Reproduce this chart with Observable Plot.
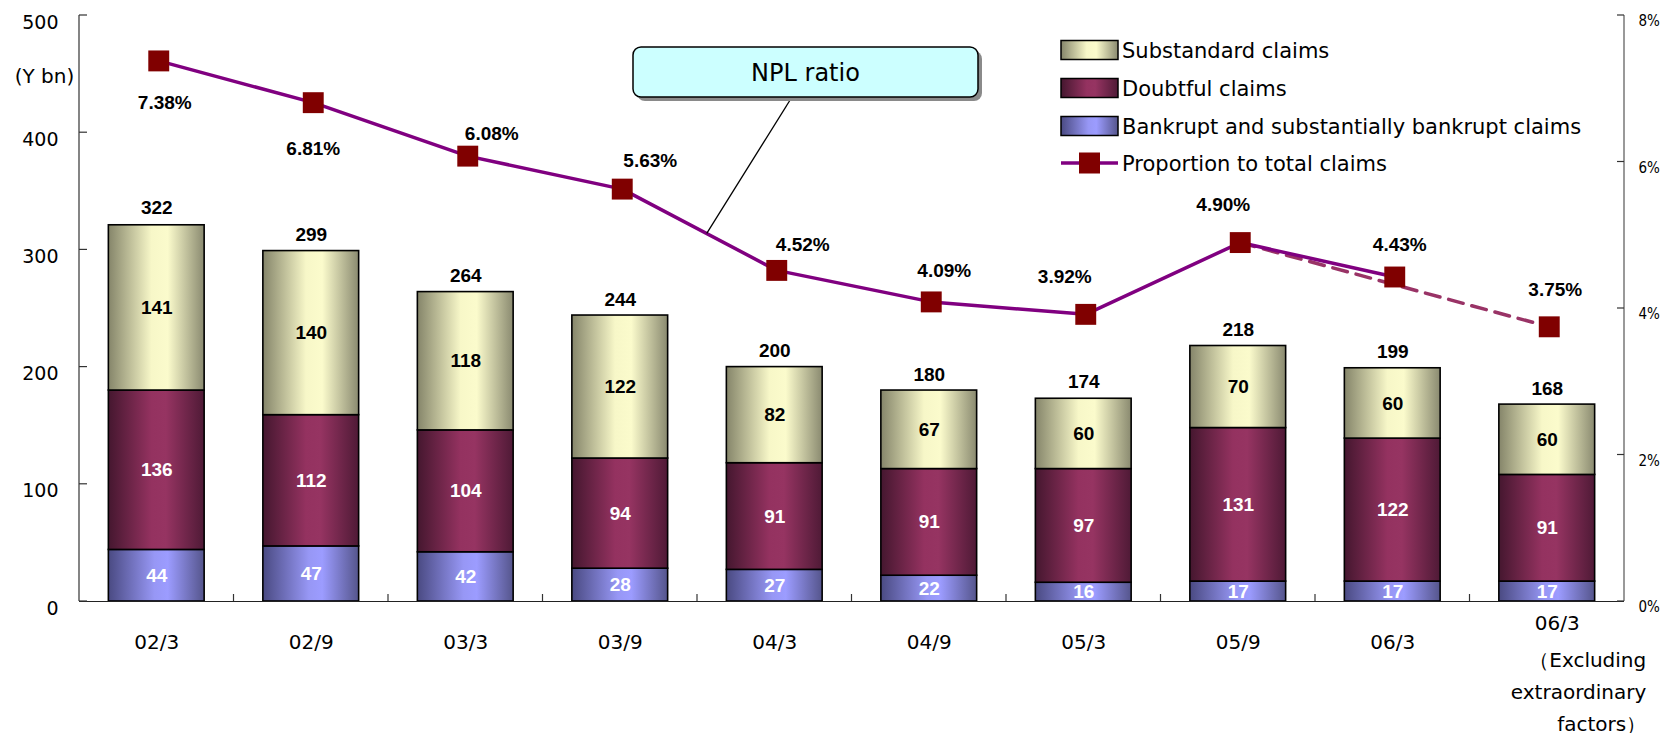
<!DOCTYPE html>
<html><head><meta charset="utf-8">
<script src="https://cdn.jsdelivr.net/npm/d3@7"></script>
<script src="https://cdn.jsdelivr.net/npm/@observablehq/plot@0.6"></script>
<style>
body{margin:0;background:#fff;}
#chart{position:relative;width:1680px;height:733px;}
</style></head><body><div id="chart"></div>
<script>
const periods = ["02/3","02/9","03/3","03/9","04/3","04/9","05/3","05/9","06/3","06/3x"];
const tickText = ["02/3","02/9","03/3","03/9","04/3","04/9","05/3","05/9","06/3","06/3"];
const lastNote = "（Excluding\nextraordinary\nfactors）";
const seriesNames = ["Bankrupt and substantially bankrupt claims","Doubtful claims","Substandard claims"];
const lineName = "Proportion to total claims";
const bankrupt = [44,47,42,28,27,22,16,17,17,17];
const doubtful = [136,112,104,94,91,91,97,131,122,91];
const substandard = [141,140,118,122,82,67,60,70,60,60];
const totals = [322,299,264,244,200,180,174,218,199,168];
const nplRatio = [7.38,6.81,6.08,5.63,4.52,4.09,3.92,4.90,4.43,3.75];
const yTicks = [0,100,200,300,400,500];
const pctTicks = [0,2,4,6,8];
// label placement (pixels) for the ratio labels, relative to their markers
const pctLabelOffsets = [[6,42],[0,46],[24,-22],[28,-28],[26,-26],[13,-31],[-21,-37],[-17,-38],[5,-32],[6,-37]];

const pctScale = 500/8;
const pct2y = v => v*pctScale;

const stackRows = periods.flatMap((p,i)=>[
  {period:p, series:seriesNames[0], value:bankrupt[i]},
  {period:p, series:seriesNames[1], value:doubtful[i]},
  {period:p, series:seriesNames[2], value:substandard[i]}
]);
const idx = periods.map((p,i)=>i);
const last = periods.length-1;

const boldFont = "Liberation Sans, Arial, sans-serif";
const regFont = "DejaVu Sans, sans-serif";
const mDx = 2;

const pctLabelMarks = idx.map(i => Plot.text([i], {
  x: j=>periods[j], y: j=>pct2y(nplRatio[j]), text: j=>nplRatio[j].toFixed(2)+"%",
  dx: pctLabelOffsets[i][0]+mDx, dy: pctLabelOffsets[i][1],
  fontWeight:"bold", fontSize:19, fontFamily:boldFont, fill:"#000"
}));

const plot = Plot.plot({
  width:1680, height:733,
  marginLeft:79, marginRight:56, marginTop:15, marginBottom:132,
  style:{fontFamily:regFont, fontSize:"19px", color:"#000", background:"#fff", overflow:"visible"},
  x:{domain:periods, paddingInner:0.38, paddingOuter:0.19, round:false, axis:null},
  y:{domain:[0,500], axis:null},
  color:{domain:seriesNames, range:["url(#gBank)","url(#gDoubt)","url(#gSub)"]},
  marks:[
    Plot.axisY({anchor:"left", ticks:yTicks, tickSize:0, tickPadding:21, dy:7, fontSize:19, label:null}),
    Plot.axisY({anchor:"right", ticks:pctTicks.map(pct2y), tickFormat:d=>Math.round(d/pctScale)+"%", tickSize:0, tickPadding:14, dy:6, fontSize:15, fontFamily:"DejaVu Sans Condensed, DejaVu Sans, sans-serif", label:null}),
    Plot.axisX({ticks:periods.slice(0,last), tickFormat:d=>tickText[periods.indexOf(d)], tickSize:0, tickPadding:33, fontSize:20, label:null}),
    Plot.text([last], {x:i=>periods[i], text:i=>tickText[i], frameAnchor:"bottom", lineAnchor:"middle", dx:10, dy:22, fontSize:20, fill:"#000"}),
    Plot.text([lastNote], {x:()=>periods[last], frameAnchor:"bottom", textAnchor:"end", lineAnchor:"middle", lineHeight:1.6, dx:99, dy:87, fontSize:20, fill:"#000"}),
    Plot.text(["(Y bn)"], {frameAnchor:"top-left", textAnchor:"middle", dx:-35, dy:53, fontSize:20, fill:"#000"}),
    Plot.barY(stackRows, {x:"period", y:"value", fill:"series", stroke:"#000", strokeWidth:1.6}),
    Plot.text(stackRows, Plot.stackY({x:"period", y:"value", text:d=>String(d.value),
      fill:d=>d.series===seriesNames[2]?"#000":"#fff", fontWeight:"bold", fontSize:19, fontFamily:boldFont})),
    Plot.text(idx, {x:i=>periods[i], y:i=>totals[i], text:i=>String(totals[i]), dy:-16, fontWeight:"bold", fontSize:19, fontFamily:boldFont, fill:"#000"}),
    Plot.ruleY([0], {stroke:"#222", strokeWidth:1.2}),
    Plot.line([7,9], {x:i=>periods[i], y:i=>pct2y(nplRatio[i]), stroke:"#993366", strokeWidth:3.5, strokeDasharray:"15,9", dx:mDx}),
    Plot.line(idx.slice(0,9), {x:i=>periods[i], y:i=>pct2y(nplRatio[i]), stroke:"#800080", strokeWidth:3.5, dx:mDx}),
    Plot.dot(idx, {x:i=>periods[i], y:i=>pct2y(nplRatio[i]), symbol:"square", r:11.8, fill:"#800000", stroke:"none", dx:mDx}),
    ...pctLabelMarks
  ]
});
document.getElementById("chart").appendChild(plot);

const svg = d3.select(plot);
const sx = plot.scale("x"), sy = plot.scale("y");
const bw = sx.bandwidth;
const defs = svg.insert("defs", ":first-child");
function grad(id, stops){
  const g = defs.append("linearGradient").attr("id",id).attr("x1",0).attr("x2",1).attr("y1",0).attr("y2",0);
  stops.forEach(([o,c])=>g.append("stop").attr("offset",o).attr("stop-color",c));
}
grad("gSub", [[0,"#85856a"],[0.45,"#f7f7c8"],[0.62,"#fbfbcc"],[1,"#8a8a70"]]);
grad("gDoubt", [[0,"#45172f"],[0.45,"#943260"],[0.6,"#963462"],[1,"#4f1a36"]]);
grad("gBank", [[0,"#4a4a82"],[0.48,"#9797f5"],[0.62,"#9c9cff"],[1,"#55558c"]]);

const X0 = sx.range[0], X1 = sx.range[1];
const Y0 = sy.apply(0), Ytop = sy.apply(500);
const g = svg.append("g");
// axis lines and inward ticks
g.append("line").attr("x1",X0).attr("x2",X0).attr("y1",Ytop).attr("y2",Y0).attr("stroke","#333").attr("stroke-width",1.2);
g.append("line").attr("x1",X1).attr("x2",X1).attr("y1",sy.apply(pct2y(8))).attr("y2",Y0).attr("stroke","#555").attr("stroke-width",1.2);
yTicks.forEach(t=>{
  const yy = sy.apply(t);
  g.append("line").attr("x1",X0).attr("x2",X0+8).attr("y1",yy).attr("y2",yy).attr("stroke","#333").attr("stroke-width",1.2);
});
pctTicks.forEach(t=>{
  const yy = sy.apply(pct2y(t));
  g.append("line").attr("x1",X1-7).attr("x2",X1).attr("y1",yy).attr("y2",yy).attr("stroke","#333").attr("stroke-width",1.2);
});
const step = sx.apply(periods[1]) - sx.apply(periods[0]);
const gap = step - bw;
for (let i=1;i<periods.length;i++){
  const bx = sx.apply(periods[i]) - gap/2;
  g.append("line").attr("x1",bx).attr("x2",bx).attr("y1",Y0-7).attr("y2",Y0).attr("stroke","#333").attr("stroke-width",1.2);
}

// callout
const cx = i => sx.apply(periods[i]) + bw/2 + mDx;
const cy = i => sy.apply(pct2y(nplRatio[i]));
const t = 0.55;
const ax = cx(3) + (cx(4)-cx(3))*t, ay = cy(3) + (cy(4)-cy(3))*t;
const box = {x:633, y:47, w:345, h:50};
g.append("line").attr("x1",box.x+159).attr("y1",box.y+box.h).attr("x2",ax).attr("y2",ay).attr("stroke","#000").attr("stroke-width",1.3);
g.append("rect").attr("x",box.x+4).attr("y",box.y+4).attr("width",box.w).attr("height",box.h).attr("rx",8).attr("fill","#8a8a8a");
g.append("rect").attr("x",box.x).attr("y",box.y).attr("width",box.w).attr("height",box.h).attr("rx",8).attr("fill","#ccffff").attr("stroke","#000").attr("stroke-width",1.5);
g.append("text").attr("x",box.x+box.w/2).attr("y",box.y+box.h/2+1).attr("text-anchor","middle").attr("dominant-baseline","central")
  .attr("font-family",regFont).attr("font-size",24).attr("fill","#000").text("NPL ratio");

// legend
const legRows = [
  {name:seriesNames[2], fill:"url(#gSub)"},
  {name:seriesNames[1], fill:"url(#gDoubt)"},
  {name:seriesNames[0], fill:"url(#gBank)"},
  {name:lineName, line:true}
];
const legY = [50, 88, 126, 163];
const lg = svg.append("g");
legRows.forEach((r,i)=>{
  const yy = legY[i];
  if (r.line){
    lg.append("line").attr("x1",1061).attr("x2",1118).attr("y1",yy).attr("y2",yy).attr("stroke","#800080").attr("stroke-width",3.5);
    lg.append("rect").attr("x",1079).attr("y",yy-10.5).attr("width",21).attr("height",21).attr("fill","#800000");
  } else {
    lg.append("rect").attr("x",1061).attr("y",yy-9.5).attr("width",57).attr("height",19).attr("fill",r.fill).attr("stroke","#000").attr("stroke-width",1.5);
  }
  lg.append("text").attr("x",1122).attr("y",yy+1).attr("text-anchor","start").attr("dominant-baseline","central").attr("font-family",regFont).attr("font-size",21).attr("fill","#000").text(r.name);
});
</script></body></html>
